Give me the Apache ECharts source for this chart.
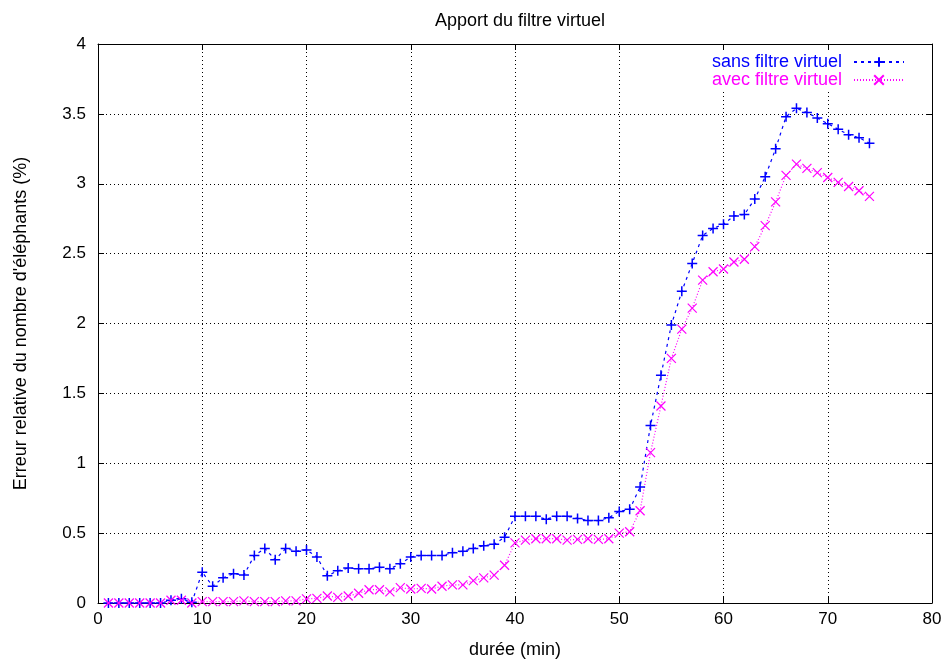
<!DOCTYPE html>
<html><head><meta charset="utf-8">
<script src="https://cdn.jsdelivr.net/npm/echarts@6/dist/echarts.min.js"></script>
<style>html,body{margin:0;padding:0;background:#fff}#c{width:945px;height:664px}</style>
</head><body><div id="c"></div>
<script>
const minutes = [1,2,3,4,5,6,7,8,9,10,11,12,13,14,15,16,17,18,19,20,21,22,23,24,25,26,27,28,29,30,31,32,33,34,35,36,37,38,39,40,41,42,43,44,45,46,47,48,49,50,51,52,53,54,55,56,57,58,59,60,61,62,63,64,65,66,67,68,69,70,71,72,73,74];
const sansFiltre = [0,0,0,0,0,0,0.02,0.03,0.005,0.22,0.12,0.18,0.21,0.2,0.34,0.39,0.31,0.39,0.37,0.38,
  0.33,0.195,0.23,0.25,0.245,0.245,0.255,0.245,0.28,0.33,0.34,0.34,0.34,0.36,0.37,0.39,0.41,0.42,0.47,0.62,
  0.62,0.62,0.6,0.62,0.62,0.605,0.59,0.59,0.61,0.655,0.67,0.83,1.27,1.63,1.99,2.23,2.43,2.63,2.68,2.71,
  2.77,2.78,2.89,3.05,3.25,3.48,3.54,3.51,3.47,3.43,3.39,3.35,3.33,3.29];
const avecFiltre = [0,0,0,0,0,0,0.02,0.02,0.0,0.01,0.01,0.01,0.01,0.015,0.01,0.01,0.01,0.015,0.015,0.03,
  0.033,0.05,0.04,0.05,0.07,0.095,0.095,0.08,0.11,0.1,0.105,0.1,0.12,0.13,0.13,0.16,0.18,0.2,0.27,0.43,
  0.45,0.46,0.46,0.46,0.45,0.455,0.46,0.455,0.46,0.5,0.51,0.66,1.076,1.41,1.75,1.96,2.11,2.31,2.37,2.39,
  2.44,2.46,2.55,2.7,2.87,3.06,3.14,3.11,3.08,3.045,3.01,2.98,2.95,2.91];
const seriesNames = ['sans filtre virtuel','avec filtre virtuel'];
const titleText = 'Apport du filtre virtuel';
const xName = 'durée (min)';
const yName = "Erreur relative du nombre d'éléphants (%)";

const FONT = 'Liberation Sans, Arial, sans-serif';
const BLUE = '#0000ff', MAG = '#ff00ff';
const plus = 'path://M0,5 L10,5 M5,0 L5,10';
const cross = 'path://M0,0 L10,10 M0,10 L10,0';
const pairs = (ys) => minutes.map((m,i)=>[m, ys[i]]);
const chart = echarts.init(document.getElementById('c'), null, {renderer:'canvas'});
const axisCommon = {
  axisLine:{show:true, onZero:false, lineStyle:{color:'#000', width:1}},
  axisTick:{show:true, inside:true, length:6, lineStyle:{color:'#000'}},
};
chart.setOption({
  animation:false,
  backgroundColor:'#fff',
  title:{text:titleText, left:515, top:7, textAlign:'center',
    textStyle:{fontFamily:FONT, fontSize:18, fontWeight:'normal', color:'#000'}},
  grid:{left:98, right:13, top:44, bottom:60, containLabel:false},
  legend:{
    orient:'vertical', align:'right', right:40, top:52, itemGap:0,
    itemWidth:50, itemHeight:12, padding:[1,0,1,0], backgroundColor:'#fff',
    data:[{name:seriesNames[0], textStyle:{color:BLUE}},{name:seriesNames[1], textStyle:{color:MAG}}],
    textStyle:{fontFamily:FONT, fontSize:18, lineHeight:18, padding:[0,7,0,0]}
  },
  xAxis:[
    Object.assign({type:'value', min:0, max:80, interval:10, position:'bottom',
      name:xName, nameLocation:'middle', nameGap:38,
      nameTextStyle:{fontFamily:FONT, fontSize:18, color:'#000'},
      axisLabel:{fontFamily:FONT, fontSize:17, color:'#000', margin:8},
      splitLine:{show:true, lineStyle:{color:'#000', type:[1,3], width:1}}}, axisCommon),
    Object.assign({type:'value', min:0, max:80, interval:10, position:'top',
      axisLabel:{show:false}, splitLine:{show:false}}, axisCommon)
  ],
  yAxis:[
    Object.assign({type:'value', min:0, max:4, interval:0.5, position:'left',
      name:yName, nameLocation:'middle', nameGap:68, nameRotate:90,
      nameTextStyle:{fontFamily:FONT, fontSize:18, color:'#000'},
      axisLabel:{fontFamily:FONT, fontSize:17, color:'#000', margin:12},
      splitLine:{show:true, lineStyle:{color:'#000', type:[1,3], width:1}}}, axisCommon),
    Object.assign({type:'value', min:0, max:4, interval:0.5, position:'right',
      axisLabel:{show:false}, splitLine:{show:false}}, axisCommon)
  ],
  series:[
    {name:seriesNames[0], type:'line', data:pairs(sansFiltre), symbol:plus, symbolSize:10,
      showSymbol:true, color:BLUE,
      lineStyle:{color:BLUE, width:1.2, type:[3,4]},
      itemStyle:{color:'rgba(0,0,0,0)', borderColor:BLUE, borderWidth:1.5}},
    {name:seriesNames[1], type:'line', data:pairs(avecFiltre), symbol:cross, symbolSize:9,
      showSymbol:true, color:MAG,
      lineStyle:{color:MAG, width:1.2, type:[1,2]},
      itemStyle:{color:'rgba(0,0,0,0)', borderColor:MAG, borderWidth:1.2}}
  ]
});
</script></body></html>
